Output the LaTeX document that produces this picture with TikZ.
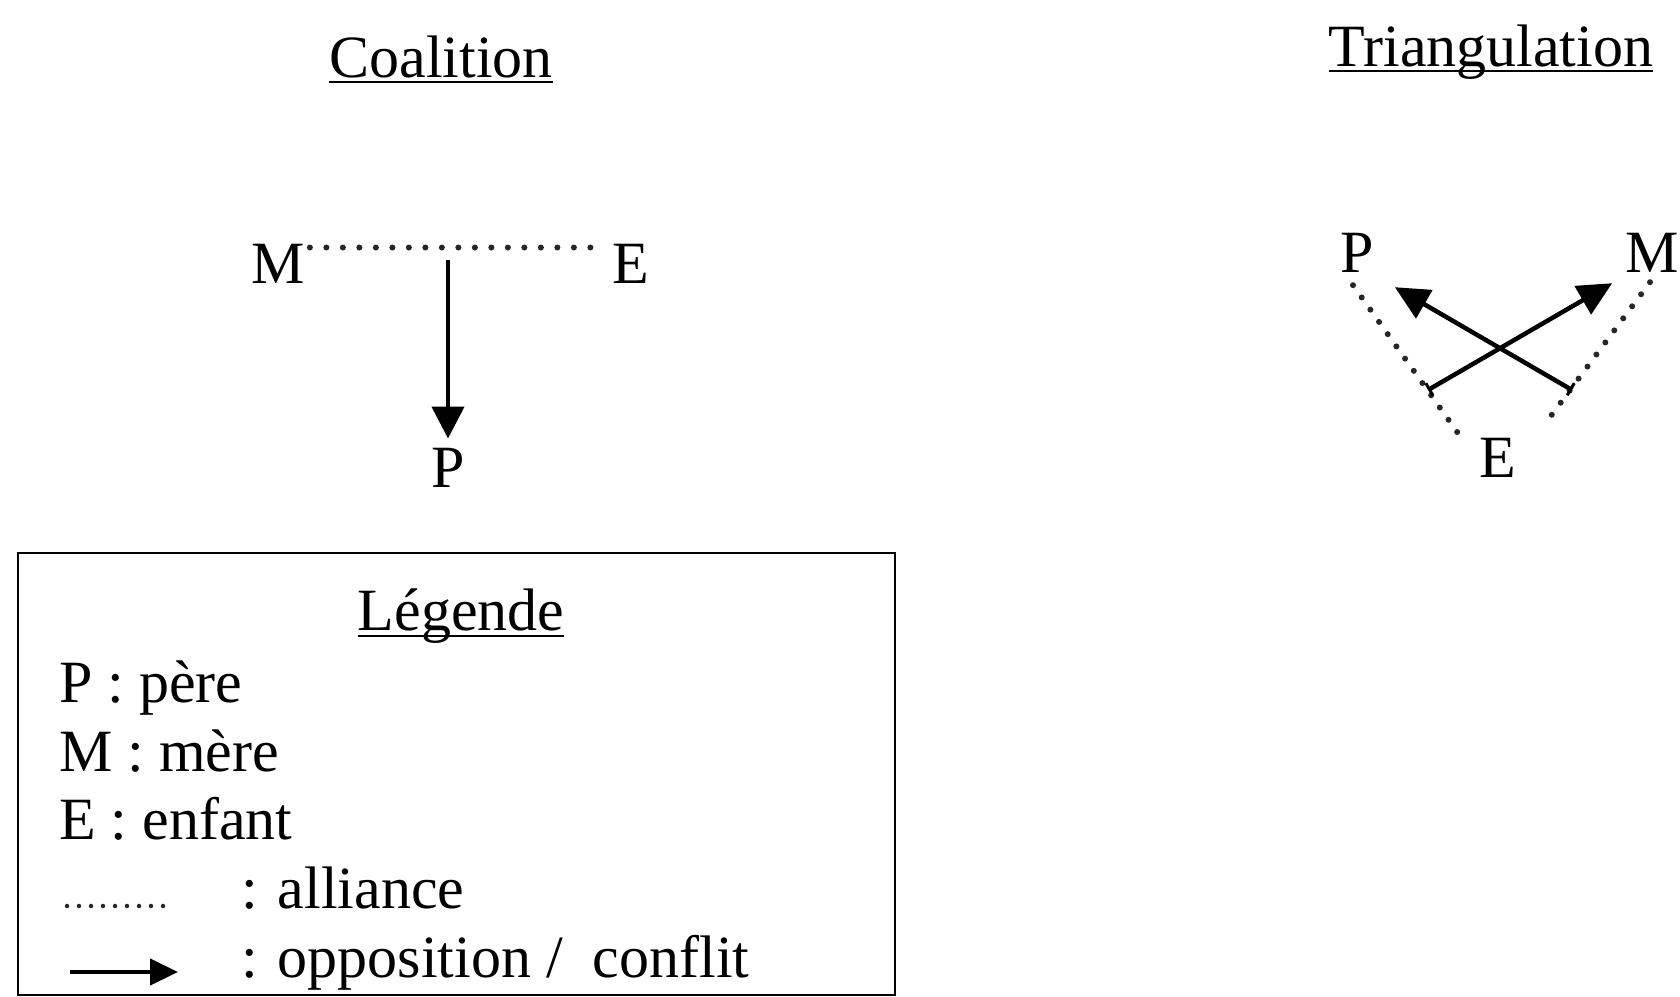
\documentclass[tikz,border=0pt]{standalone}
\usepackage{fontspec}
\setmainfont{Liberation Serif}
\usetikzlibrary{arrows.meta,calc}
\tikzset{
  lbl/.style={inner sep=0pt, anchor=base, font=\fontsize{60}{72}\selectfont},
  lleft/.style={lbl, anchor=base west},
  dotline/.style={line width=6pt, line cap=round, dash pattern=on 0pt off 16.5pt, black!85},
  smalldots/.style={line width=4.5pt, line cap=round, dash pattern=on 0pt off 12pt, black!85},
  arr/.style={line width=4.5pt, -{Triangle[length=32pt,width=32pt]}},
  barr/.style={line width=4.5pt, {Bar[width=14pt,line width=3pt]}-{Triangle[length=34pt,width=32pt]}},
  uline/.style={line width=2.5pt},
}
\begin{document}
\begin{tikzpicture}[x=1pt,y=-1pt]
\useasboundingbox (0,0) rectangle (1680,996);
% Titles
\node[lbl] (coal) at (441,77) {Coalition};
\draw[uline] ($(coal.base west)+(0,5)$) -- ($(coal.base east)+(0,5)$);
\node[lbl] (tri) at (1491,66) {Triangulation};
\draw[uline] ($(tri.base west)+(0,5)$) -- ($(tri.base east)+(0,5)$);
% Coalition
\node[lbl] (cM) at (278,283) {M};
\node[lbl] (cE) at (631,283) {E};
\node[lbl] (cP) at (448,487) {P};
\draw[dotline] ($(cM.north east)+(5,4)$) -- ($(cE.north west)+(-17,4)$);
\coordinate (cME) at (448,260);
\draw[arr] (cME) -- ($(cP.north)+(0,-9)$);
% Triangulation
\node[lbl] (tP) at (1357,272) {P};
\node[lbl] (tM) at (1652,272) {M};
\node[lbl] (tE) at (1498,477) {E};
\draw[dotline, dash pattern=on 0pt off 15pt] ($(tP.south)+(-4,13)$) -- ($(tE.north west)+(-17,2)$);
\draw[dotline, dash pattern=on 0pt off 15pt] ($(tM.south)+(-2,10)$) -- ($(tE.north east)+(28,-13)$);
\coordinate (t1) at (1572,390);
\coordinate (t2) at (1428,390);
\draw[barr] (t1) -- ($(tP.south east)+(21,15)$);
\draw[barr] (t2) -- ($(tM.south west)+(-13,11)$);
% Legend
\draw[line width=2.5pt] (18,553) rectangle (895,995);
\node[lbl] (leg) at (461,630) {Légende};
\draw[uline] ($(leg.base west)+(0,6)$) -- ($(leg.base east)+(0,6)$);
\node[lleft] (l1) at (59,702) {P : père};
\node[lleft] (l2) at (59,771) {M : mère};
\node[lleft] (l3) at (59,839) {E : enfant};
\node[lleft] (l4) at (241,908) {: alliance};
\node[lleft] (l5) at (241,977) {: opposition /\ \ conflit};
\coordinate (d1) at (67,906);
\coordinate (d2) at (172,906);
\draw[smalldots] (d1) -- (d2);
\coordinate (a1) at (70,972);
\coordinate (a2) at (178,972);
\draw[line width=4.5pt, -{Triangle[length=28pt,width=26pt]}] (a1) -- (a2);
\end{tikzpicture}
\end{document}
